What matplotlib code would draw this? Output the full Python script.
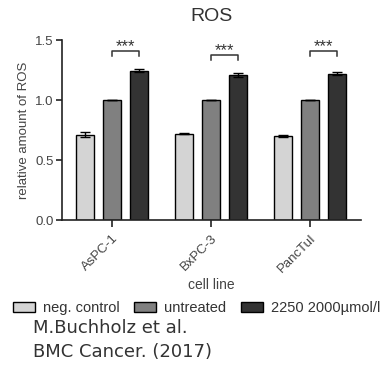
import matplotlib.pyplot as plt
import matplotlib.patches as mpatches
import numpy as np

plt.rcParams['font.family'] = ['Liberation Sans', 'DejaVu Sans']

cell_lines = ["AsPC-1", "BxPC-3", "PancTuI"]
series = ["neg. control", "untreated", "2250 2000\u00b5mol/l"]
neg_control = [0.71, 0.72, 0.70]
neg_control_err = [0.02, 0.006, 0.006]
untreated = [1.0, 1.0, 1.0]
untreated_err = [0.0, 0.0, 0.0]
treated = [1.245, 1.21, 1.22]
treated_err = [0.012, 0.015, 0.012]
bracket_levels = [1.41, 1.38, 1.41]
colors = ["#d4d4d4", "#808080", "#333333"]

fig = plt.figure(figsize=(3.87, 3.68), dpi=100)
ax = fig.add_axes([0.160, 0.402, 0.773, 0.489])

x = np.arange(len(cell_lines))
offsets = [-0.27, 0.0, 0.27]
width = 0.185
values = [neg_control, untreated, treated]
errors = [neg_control_err, untreated_err, treated_err]
for vals, errs, off, col, name in zip(values, errors, offsets, colors, series):
    ax.bar(x + off, vals, width, color=col, edgecolor="black", linewidth=1.0,
           yerr=errs, capsize=3.5, error_kw=dict(elinewidth=1.0, capthick=1.0, ecolor="black"),
           label=name, zorder=2)

# significance brackets
for i, lvl in enumerate(bracket_levels):
    x0 = x[i] + offsets[1]
    x1 = x[i] + offsets[2]
    ax.plot([x0, x0, x1, x1], [lvl - 0.045, lvl, lvl, lvl - 0.045], color="#333333", lw=1.1,
            clip_on=False)
    ax.text((x0 + x1) / 2, lvl - 0.03, "***", ha="center", va="bottom", fontsize=12,
            color="#333333")

ax.set_xlim(-0.505, 2.515)
ax.set_ylim(0, 1.5)
ax.set_yticks([0.0, 0.5, 1.0, 1.5])
ax.set_yticklabels(["0.0", "0.5", "1.0", "1.5"])
ax.set_xticks(x)
ax.set_xticklabels(cell_lines, rotation=45, ha="right", rotation_mode="anchor")
ax.tick_params(axis="both", labelsize=9.5, labelcolor="#444444", color="#222222",
               width=1.2, length=4, pad=2)
ax.tick_params(axis="x", length=5, pad=4)
for s in ["top", "right"]:
    ax.spines[s].set_visible(False)
for s in ["left", "bottom"]:
    ax.spines[s].set_linewidth(1.2)
    ax.spines[s].set_color("#222222")

ax.set_title("ROS", fontsize=14, color="#333333", pad=14)
ax.set_ylabel("relative amount of ROS", fontsize=9.5, color="#444444", labelpad=4)
ax.set_xlabel("cell line", fontsize=10, color="#444444", labelpad=2)

handles = [mpatches.Patch(facecolor=c, edgecolor="black", linewidth=1.0) for c in colors]
fig.legend(handles, series, loc="center left", bbox_to_anchor=(0.034, 0.163), ncol=3,
           frameon=False, fontsize=10.5, handlelength=1.5, handleheight=0.6,
           handletextpad=0.55, columnspacing=1.0, labelcolor="#333333",
           borderaxespad=0, borderpad=0)

fig.text(0.085, 0.109, "M.Buchholz et al.", fontsize=13, color="#333333",
         family=["DejaVu Sans"], va="center")
fig.text(0.085, 0.043, "BMC Cancer. (2017)", fontsize=13, color="#333333",
         family=["DejaVu Sans"], va="center")

fig.savefig("out.png", dpi=100)
